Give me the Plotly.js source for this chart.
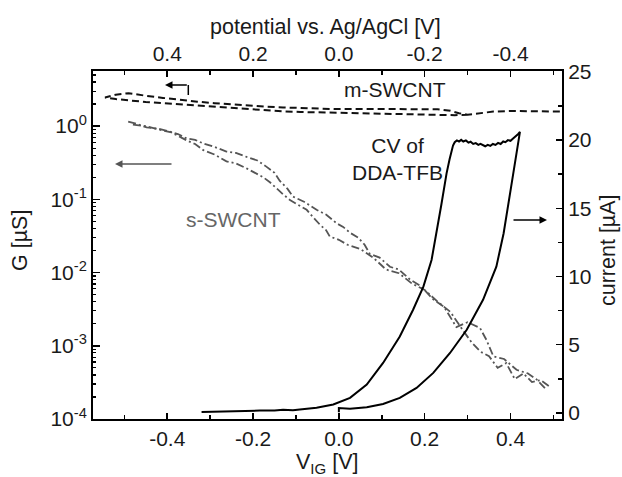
<!DOCTYPE html>
<html>
<head>
<meta charset="utf-8">
<script src="https://cdn.plot.ly/plotly-3.0.1.min.js"></script>
<style>html,body{margin:0;padding:0;background:#fff;}#chart{width:622px;height:477px;}</style>
</head>
<body>
<div id="chart"></div>
<script>
// ---- data ----
// m-SWCNT conductance loop (V_IG [V], G [uS])
const mV = [0.515,0.48,0.44,0.40,0.36,0.33,0.30,0.28,0.26,0.23,0.19,0.15,0.11,0.07,0.03,-0.01,-0.05,-0.09,-0.13,-0.17,-0.21,-0.25,-0.29,-0.33,-0.37,-0.41,-0.45,-0.49,-0.52,-0.545,
            -0.52,-0.49,-0.45,-0.41,-0.37,-0.33,-0.29,-0.25,-0.21,-0.17,-0.13,-0.09,-0.05,-0.01,0.03,0.07,0.11,0.15,0.19,0.23,0.27,0.30];
const mG = [1.58,1.60,1.60,1.61,1.58,1.52,1.43,1.50,1.62,1.70,1.71,1.72,1.73,1.74,1.72,1.71,1.73,1.76,1.80,1.85,1.91,1.98,2.06,2.16,2.28,2.43,2.60,2.82,2.69,2.46,
            2.34,2.24,2.14,2.06,1.98,1.91,1.84,1.77,1.70,1.63,1.59,1.56,1.54,1.52,1.50,1.48,1.46,1.44,1.42,1.41,1.41,1.43];
// s-SWCNT conductance, two sweeps
const sV1 = [-0.491,-0.470,-0.448,-0.420,-0.394,-0.375,-0.355,-0.335,-0.316,-0.290,-0.262,-0.240,-0.215,-0.190,-0.169,-0.150,-0.138,-0.120,-0.107,-0.080,-0.052,-0.030,-0.005,0.010,0.026,0.045,0.060,0.072,0.095,0.119,0.140,0.166,0.190,0.220,0.245,0.274,0.300,0.329,0.344,0.360,0.385,0.414,0.440,0.460,0.484];
const sG1 = [1.15,1.07,0.96,0.92,0.84,0.78,0.68,0.65,0.58,0.52,0.45,0.43,0.38,0.34,0.28,0.23,0.18,0.14,0.109,0.092,0.072,0.062,0.047,0.042,0.035,0.030,0.024,0.018,0.016,0.012,0.011,0.0080,0.0066,0.0043,0.0034,0.0018,0.0021,0.00175,0.0012,0.00072,0.00066,0.00047,0.00042,0.00035,0.00025];
const sV2 = [-0.48,-0.45,-0.42,-0.39,-0.355,-0.335,-0.316,-0.290,-0.262,-0.240,-0.215,-0.195,-0.176,-0.160,-0.145,-0.130,-0.114,-0.095,-0.075,-0.060,-0.044,-0.030,-0.021,0.0,0.02,0.05,0.08,0.11,0.14,0.17,0.20,0.23,0.26,0.29,0.31,0.33,0.35,0.37,0.39,0.41,0.43,0.45,0.47,0.49];
const sG2 = [1.05,1.0,0.90,0.82,0.64,0.57,0.47,0.41,0.33,0.31,0.265,0.23,0.20,0.17,0.14,0.117,0.098,0.084,0.072,0.057,0.045,0.038,0.031,0.028,0.024,0.021,0.016,0.011,0.0098,0.0071,0.0058,0.0040,0.0029,0.0016,0.0011,0.00083,0.00072,0.0005,0.00058,0.00035,0.00042,0.00032,0.00034,0.00028];
// cyclic voltammogram of DDA-TFB (V_IG [V], current [uA])
const cvV = [0.0,0.0,0.026,0.065,0.103,0.142,0.181,0.220,0.259,0.298,0.336,0.367,0.384,0.396,0.410,0.422,
             0.418,0.412,0.406,0.400,0.394,0.388,0.383,0.377,0.371,0.365,0.359,0.353,0.347,0.341,0.336,0.330,0.325,0.319,0.313,0.307,0.302,0.296,0.290,0.285,0.280,0.275,0.270,0.266,
             0.258,0.251,0.239,0.227,0.216,0.197,0.173,0.142,0.103,0.065,0.026,-0.013,-0.052,-0.091,-0.107,-0.130,-0.150,-0.184,-0.220,-0.262,-0.290,-0.320];
const cvI = [0.05,0.35,0.30,0.42,0.65,1.10,1.83,2.93,4.39,6.09,8.29,10.72,13.17,15.6,18.29,20.6,
             20.45,20.25,20.12,19.95,20.0,19.85,19.9,19.72,19.8,19.65,19.72,19.58,19.66,19.55,19.63,19.72,19.65,19.78,19.72,19.88,19.82,19.98,19.9,20.02,19.9,19.98,19.85,19.6,
             18.6,17.56,15.3,13.0,11.21,9.26,7.56,5.6,3.66,2.07,1.10,0.61,0.37,0.24,0.19,0.22,0.18,0.17,0.15,0.15,0.12,0.07];
// ticks
const xTickVals = [-0.4,-0.2,0.0,0.2,0.4];
const xTickText = ['-0.4','-0.2','0.0','0.2','0.4'];
const topTickVals = [0.4,0.2,0.0,-0.2,-0.4];
const topTickText = ['0.4','0.2','0.0','-0.2','-0.4'];
const gTickVals = [1e-4,1e-3,1e-2,1e-1,1];
const gTickText = ['10<sup>-4</sup>','10<sup>-3</sup>','10<sup>-2</sup>','10<sup>-1</sup>','10<sup>0</sup>'];
const iTickVals = [0,5,10,15,20,25];
const iTickText = ['0','5','10','15','20','25'];

// ---- layout helpers ----
const FONT = 'Liberation Sans, Arial, Helvetica, sans-serif';
const L = 93, R = 562, T = 71, B = 419;
const px = x => (x - L) / (R - L);
const py = y => (B - y) / (B - T);

const gMinor = [];
[1e-4,1e-3,1e-2,1e-1,1].forEach(d => { for (let k = 2; k <= 9; k++) gMinor.push(d * k); });

const axCommon = {
  showline: true, linewidth: 2, linecolor: '#000', ticks: 'inside', tickcolor: '#000',
  tickwidth: 1.5, showgrid: false, zeroline: false, fixedrange: true,
  tickfont: {family: FONT, size: 21, color: '#1a1a1a'}
};

const traces = [
  {x: mV, y: mG, xaxis: 'x', yaxis: 'y', mode: 'lines', line: {color: '#111', width: 2, dash: '7px,4px'}, hoverinfo: 'skip'},
  {x: sV1, y: sG1, xaxis: 'x', yaxis: 'y', mode: 'lines', line: {color: '#555', width: 1.8, dash: '8px,3px,2px,3px'}, hoverinfo: 'skip'},
  {x: sV2, y: sG2, xaxis: 'x', yaxis: 'y', mode: 'lines', line: {color: '#555', width: 1.8, dash: '8px,3px,2px,3px'}, hoverinfo: 'skip'},
  {x: cvV, y: cvI, xaxis: 'x', yaxis: 'y2', mode: 'lines', line: {color: '#000', width: 2}, hoverinfo: 'skip'},
  {x: [], y: [], xaxis: 'x2', yaxis: 'y', mode: 'lines', hoverinfo: 'skip'}
];

const annFont = {family: FONT, size: 21, color: '#1a1a1a'};
const titleFont = {family: FONT, size: 21.5, color: '#1a1a1a'};
const layout = {
  width: 622, height: 477,
  margin: {l: L, r: 622 - R, t: T, b: 477 - B, pad: 0},
  paper_bgcolor: '#fff', plot_bgcolor: '#fff',
  showlegend: false,
  xaxis: Object.assign({}, axCommon, {
    range: [-0.573, 0.52], tickmode: 'array', tickvals: xTickVals, ticktext: xTickText, ticklen: 6,
    minor: {tickmode: 'array', tickvals: [-0.5,-0.3,-0.1,0.1,0.3,0.5], ticks: 'inside', ticklen: 4, tickwidth: 1.5, tickcolor: '#000'}
  }),
  xaxis2: Object.assign({}, axCommon, {
    overlaying: 'x', side: 'top', anchor: 'y',
    range: [0.573, -0.52], tickmode: 'array', tickvals: topTickVals, ticktext: topTickText, ticklen: 6,
    minor: {tickmode: 'array', tickvals: [0.5,0.3,0.1,-0.1,-0.3,-0.5], ticks: 'inside', ticklen: 4, tickwidth: 1.5, tickcolor: '#000'}
  }),
  yaxis: Object.assign({}, axCommon, {
    type: 'log', range: [-4, 0.753], tickmode: 'array', tickvals: gTickVals, ticktext: gTickText, ticklen: 7,
    minor: {tickmode: 'array', tickvals: gMinor, ticks: 'inside', ticklen: 3, tickwidth: 1.2, tickcolor: '#000'}
  }),
  yaxis2: Object.assign({}, axCommon, {
    overlaying: 'y', side: 'right', anchor: 'x',
    range: [-0.45, 25.07], tickmode: 'array', tickvals: iTickVals, ticktext: iTickText, ticklen: 6,
    minor: {tickmode: 'array', tickvals: [2.5,7.5,12.5,17.5,22.5], ticks: 'inside', ticklen: 4, tickwidth: 1.5, tickcolor: '#000'}
  }),
  shapes: [
    {type: 'line', xref: 'paper', yref: 'paper', x0: px(188.3), x1: px(188.3), y0: py(95), y1: py(85), line: {color: '#000', width: 1.5}}
  ],
  annotations: [
    // axis titles
    {xref: 'paper', yref: 'paper', x: px(325), y: py(27), text: 'potential vs. Ag/AgCl [V]', showarrow: false, xanchor: 'center', yanchor: 'middle', font: titleFont},
    {xref: 'paper', yref: 'paper', x: px(327), y: py(463), text: 'V<sub>IG</sub> [V]', showarrow: false, xanchor: 'center', yanchor: 'middle', font: titleFont},
    {xref: 'paper', yref: 'paper', x: px(20), y: py(241), text: 'G [µS]', textangle: -90, showarrow: false, xanchor: 'center', yanchor: 'middle', font: titleFont},
    {xref: 'paper', yref: 'paper', x: px(608), y: py(250), text: 'current [µA]', textangle: -90, showarrow: false, xanchor: 'center', yanchor: 'middle', font: titleFont},
    // curve labels
    {xref: 'paper', yref: 'paper', x: px(395), y: py(89), text: 'm-SWCNT', showarrow: false, xanchor: 'center', yanchor: 'middle', font: annFont},
    {xref: 'paper', yref: 'paper', x: px(397), y: py(159), text: 'CV of<br>DDA-TFB', showarrow: false, xanchor: 'center', yanchor: 'middle', font: annFont},
    {xref: 'paper', yref: 'paper', x: px(233), y: py(220), text: 's-SWCNT', showarrow: false, xanchor: 'center', yanchor: 'middle', font: {family: FONT, size: 21, color: '#666'}},
    // arrows
    {xref: 'paper', yref: 'paper', x: px(165), y: py(85), ax: 23.3, ay: 0, text: '', showarrow: true, arrowhead: 2, arrowsize: 1, arrowwidth: 1.5, arrowcolor: '#000'},
    {xref: 'paper', yref: 'paper', x: px(115), y: py(164), ax: 58, ay: 0, text: '', showarrow: true, arrowhead: 2, arrowsize: 1, arrowwidth: 1.5, arrowcolor: '#555'},
    {xref: 'paper', yref: 'paper', x: px(547), y: py(220), ax: -35, ay: 0, text: '', showarrow: true, arrowhead: 2, arrowsize: 1, arrowwidth: 1.5, arrowcolor: '#000'}
  ]
};

Plotly.newPlot('chart', traces, layout, {staticPlot: true, displayModeBar: false});
</script>
</body>
</html>
